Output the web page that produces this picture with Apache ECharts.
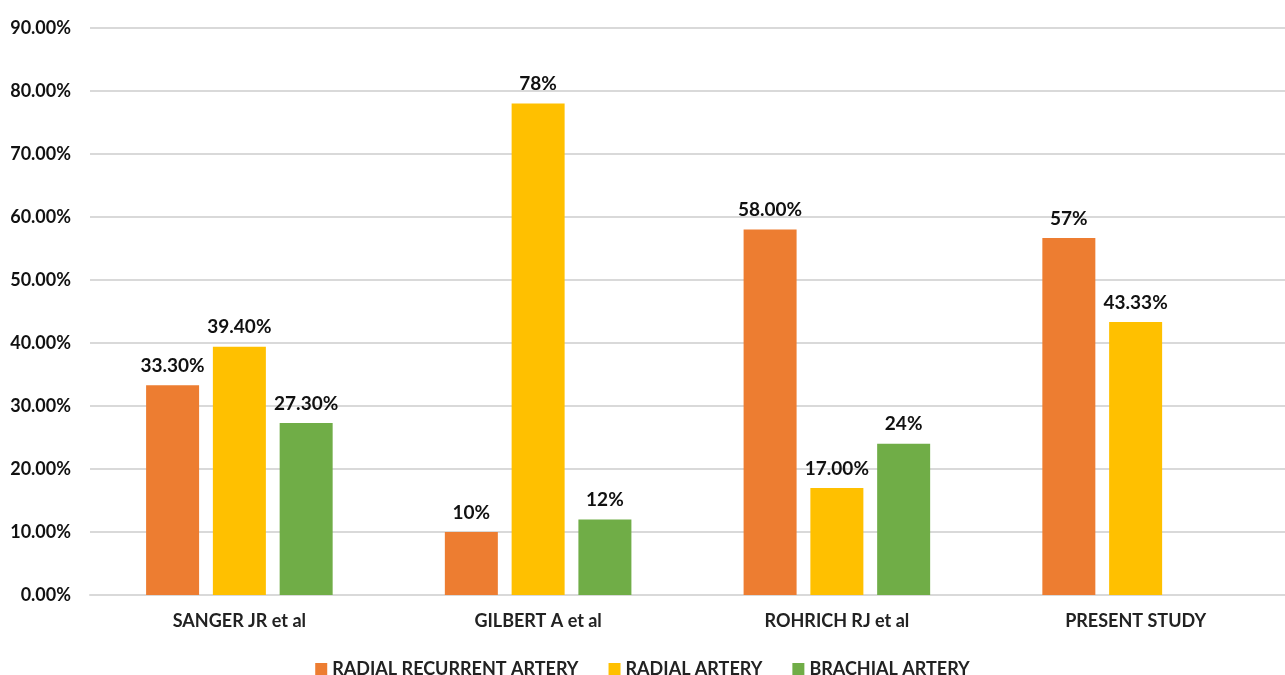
<!DOCTYPE html>
<html><head><meta charset="utf-8">
<script src="https://cdn.jsdelivr.net/npm/echarts@6/dist/echarts.min.js"></script>
<style>html,body{margin:0;padding:0;background:#fff}#c{width:1285px;height:675px}</style>
</head><body><div id="c"></div>
<script>
const categories = ['SANGER JR et al', 'GILBERT A et al', 'ROHRICH RJ et al', 'PRESENT STUDY'];
const seriesNames = ['RADIAL RECURRENT ARTERY', 'RADIAL ARTERY', 'BRACHIAL ARTERY'];
const radialRecurrent = [33.3, 10, 58, 56.67];
const radial = [39.4, 78, 17, 43.33];
const brachial = [27.3, 12, 24, null];
const radialRecurrentLabels = ['33.30%', '10%', '58.00%', '57%'];
const radialLabels = ['39.40%', '78%', '17.00%', '43.33%'];
const brachialLabels = ['27.30%', '12%', '24%', ''];
const colors = ['#ED7D31', '#FFC000', '#70AD47'];
const FONT = 'Lato';

function mk(name, data, labels, color) {
  return {
    name: name, type: 'bar', data: data, barWidth: 53, barGap: '26%',
    itemStyle: { color: color },
    label: { show: true, position: 'top', distance: 10, color: '#111', fontFamily: FONT, fontWeight: 'bold', fontSize: 19,
      formatter: p => labels[p.dataIndex] }
  };
}
const chart = echarts.init(document.getElementById('c'));
chart.setOption({
  animation: false,
  color: colors,
  grid: { left: 90, right: 0, top: 28, bottom: 80, containLabel: false },
  legend: { top: 655, left: 'center', itemWidth: 12, itemHeight: 12, itemGap: 30, icon: 'rect',
    textStyle: { fontFamily: FONT, fontWeight: 'bold', fontSize: 18, color: '#222' } },
  xAxis: { type: 'category', data: categories, axisTick: { show: false },
    axisLine: { lineStyle: { color: '#d9d9d9', width: 2 } },
    axisLabel: { margin: 17, fontFamily: FONT, fontWeight: 'bold', fontSize: 18, color: '#222' } },
  yAxis: { type: 'value', min: 0, max: 90, interval: 10,
    axisLabel: { formatter: v => v.toFixed(2) + '%', fontFamily: FONT, fontWeight: 'bold', fontSize: 18, color: '#111', margin: 19 },
    splitLine: { lineStyle: { color: '#d9d9d9', width: 2 } },
    axisLine: { show: false }, axisTick: { show: false } },
  series: [
    mk(seriesNames[0], radialRecurrent, radialRecurrentLabels, colors[0]),
    mk(seriesNames[1], radial, radialLabels, colors[1]),
    mk(seriesNames[2], brachial, brachialLabels, colors[2])
  ]
});
</script></body></html>
